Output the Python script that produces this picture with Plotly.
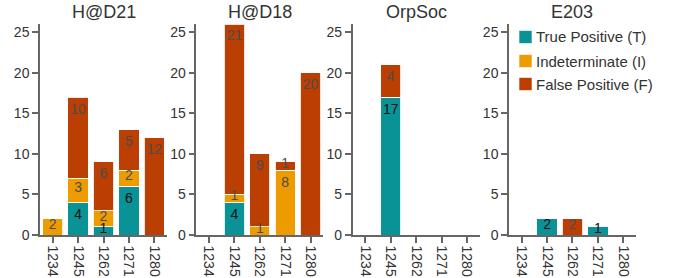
import plotly.graph_objects as go

# ---- data ----
panels = ["H@D21", "H@D18", "OrpSoc", "E203"]
categories = ["1234", "1245", "1262", "1271", "1280"]
series_names = ["True Positive (T)", "Indeterminate (I)", "False Positive (F)"]

hd21_T = [0, 4, 1, 6, 0]
hd21_I = [2, 3, 2, 2, 0]
hd21_F = [0, 10, 6, 5, 12]

hd18_T = [0, 4, 0, 0, 0]
hd18_I = [0, 1, 1, 8, 0]
hd18_F = [0, 21, 9, 1, 20]

orpsoc_T = [0, 17, 0, 0, 0]
orpsoc_I = [0, 0, 0, 0, 0]
orpsoc_F = [0, 4, 0, 0, 0]

e203_T = [0, 2, 0, 1, 0]
e203_I = [0, 0, 0, 0, 0]
e203_F = [0, 0, 2, 0, 0]

panel_data = [
    (hd21_T, hd21_I, hd21_F),
    (hd18_T, hd18_I, hd18_F),
    (orpsoc_T, orpsoc_I, orpsoc_F),
    (e203_T, e203_I, e203_F),
]

# ---- style ----
colors = ["#0a9396", "#ee9b00", "#bb3e03"]
text_colors = ["#111111", "#4d4d4d", "#4d4d4d"]
FONT = "Liberation Sans, Arial, sans-serif"
W, H = 676, 278
axis_col = "#666666"
left0, step, pw = 40, 156.33, 127
Y_MAX = 26

fig = go.Figure()
for p, (name, series) in enumerate(zip(panels, panel_data)):
    sfx = "" if p == 0 else str(p + 1)
    base = [0] * len(categories)
    for s, vals in enumerate(series):
        ys = [v if v else None for v in vals]
        fig.add_trace(go.Bar(
            x=categories, y=ys, name=series_names[s],
            marker=dict(color=colors[s], line=dict(color="rgba(255,255,255,0.85)", width=1)),
            xaxis="x" + sfx, yaxis="y" + sfx, showlegend=False, hoverinfo="skip",
        ))
        # value labels near the top of each segment
        tops = [b + v for b, v in zip(base, vals)]
        lx, ly, lt = [], [], []
        for c, v, t in zip(categories, vals, tops):
            if v:
                lx.append(c)
                ly.append(t - min(1.6, v / 2 - 0.2))
                lt.append(str(v))
        fig.add_trace(go.Scatter(
            x=lx, y=ly, text=lt, mode="text", textposition="middle center",
            textfont=dict(size=14, color=text_colors[s], family=FONT),
            xaxis="x" + sfx, yaxis="y" + sfx, showlegend=False, hoverinfo="skip",
        ))
        base = tops
    x0 = (left0 + p * step) / W
    x1 = (left0 + p * step + pw) / W
    fig.layout["xaxis" + sfx] = dict(
        domain=[x0, x1], anchor="y" + sfx, type="category",
        categoryorder="array", categoryarray=categories, range=[-0.5, 4.5],
        showline=True, linecolor=axis_col, linewidth=1.5,
        ticks="outside", ticklen=6, tickcolor=axis_col, tickwidth=1.5,
        tickangle=90, tickfont=dict(size=14, color="#333", family=FONT),
        showgrid=False, zeroline=False, fixedrange=True, automargin=False,
    )
    fig.layout["yaxis" + sfx] = dict(
        domain=[0, 1], anchor="x" + sfx, range=[0, Y_MAX],
        tickvals=[0, 5, 10, 15, 20, 25],
        showline=True, linecolor=axis_col, linewidth=1.5,
        ticks="outside", ticklen=6, tickcolor=axis_col, tickwidth=1.5,
        tickfont=dict(size=14, color="#333", family=FONT),
        showgrid=False, zeroline=False, fixedrange=True, automargin=False,
    )
    fig.add_annotation(
        text=name, x=(x0 + x1) / 2, y=1, xref="paper", yref="paper",
        xanchor="center", yanchor="bottom", showarrow=False,
        font=dict(size=18, color="#333", family=FONT),
    )

# ---- legend (drawn manually to match the compact swatch/text spacing) ----
leg_x0, leg_sq = 519 / W, 13
leg_y = [37, 61, 84]
for s in range(3):
    yc = 1 - (leg_y[s] - 24) / (H - 24 - 43)
    half = (leg_sq / 2) / (H - 24 - 43)
    fig.add_shape(type="rect", xref="paper", yref="paper",
                  x0=leg_x0, x1=leg_x0 + leg_sq / W, y0=yc - half, y1=yc + half,
                  fillcolor=colors[s], line=dict(color="rgba(255,255,255,0.6)", width=1))
    fig.add_annotation(text=series_names[s], x=534 / W, y=yc, xref="paper", yref="paper",
                       xanchor="left", yanchor="middle", showarrow=False,
                       font=dict(size=15, color="#333", family=FONT))

fig.update_layout(
    width=W, height=H, barmode="stack", bargap=0.2,
    margin=dict(l=0, r=0, t=24, b=43, autoexpand=False),
    paper_bgcolor="white", plot_bgcolor="white",
    font=dict(family=FONT, size=14, color="#333"),
    showlegend=False,
)

fig.write_html("out.html", config={"displayModeBar": False},
               post_script="document.body.style.margin='0';")
